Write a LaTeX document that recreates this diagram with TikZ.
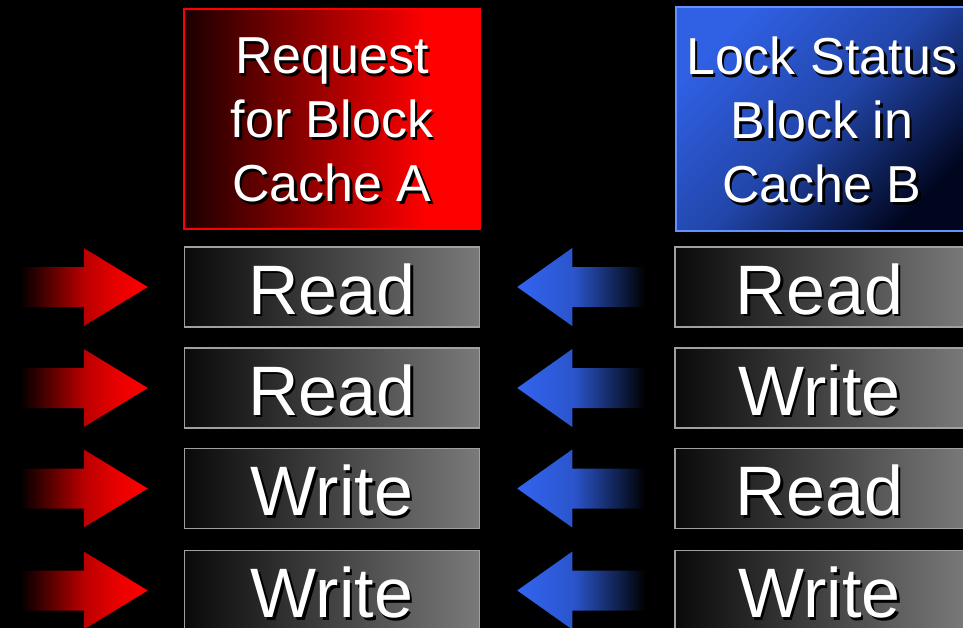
\documentclass[tikz,border=0pt]{standalone}
\usepackage{fontspec}
\setmainfont{Liberation Sans}
\usetikzlibrary{calc}
\definecolor{rdark}{RGB}{28,0,0}
\definecolor{rmid}{RGB}{185,0,0}
\definecolor{bbright}{RGB}{50,100,240}
\definecolor{bhead}{RGB}{48,96,228}
\definecolor{bnavy}{RGB}{0,6,30}
\definecolor{bborder}{RGB}{100,145,255}
\definecolor{gleft}{RGB}{10,10,10}
\definecolor{gright}{RGB}{122,122,122}
\definecolor{gborder}{RGB}{160,160,160}
\colorlet{bmidarrow}{bbright!85!black}
\pgfdeclarehorizontalshading{redarrow}{100bp}{color(0bp)=(black); color(25bp)=(black); color(50bp)=(rmid); color(62bp)=(red!90!black); color(75bp)=(red); color(100bp)=(red)}
\pgfdeclarehorizontalshading{bluearrow}{100bp}{color(0bp)=(bbright); color(25bp)=(bbright); color(47bp)=(bmidarrow); color(75bp)=(black); color(100bp)=(black)}
\pgfdeclarehorizontalshading{redhead}{100bp}{color(0bp)=(rdark); color(25bp)=(rdark); color(66bp)=(red); color(100bp)=(red)}
\tikzset{
  rowbox/.style={draw=gborder, line width=1.5pt, left color=gleft, right color=gright, minimum height=80pt, inner sep=0pt},
  redbox/.style={draw=red, line width=1.5pt, shading=redhead, minimum width=296pt, minimum height=220pt, inner sep=0pt},
  bluebox/.style={draw=bborder, line width=1.5pt, top color=bhead, bottom color=bnavy, middle color=bhead!70!bnavy, shading angle=45, minimum width=292pt, minimum height=224pt, inner sep=0pt},
  rowtxt/.style={text=white, font=\fontsize{70}{84}\selectfont, anchor=base, inner sep=0pt},
  rowshd/.style={rowtxt, text=black},
  headtxt/.style={text=white, font=\fontsize{52}{64}\selectfont, align=center, inner sep=0pt},
  headshd/.style={headtxt, text=black},
  redarr/.style={shade, shading=redarrow},
  bluearr/.style={shade, shading=bluearrow}
}
\begin{document}
\begin{tikzpicture}[x=1pt,y=-1pt]
\useasboundingbox (0,0) rectangle (963,628);
\fill[black] (0,0) rectangle (963,628);
\clip (0,0) rectangle (963,628);
% headers
\node[redbox] (ha) at (332,119) {};
\node[bluebox] (hb) at (822,119) {};
\node[headshd] (hasd) at ($(ha.center)+(2.5,3.5)$) {Request\\for Block\\Cache A};
\node[headtxt] (hat) at ($(ha.center)+(0,1)$) {Request\\for Block\\Cache A};
\node[headshd] (hbsd) at ($(hb.center)+(2.5,3.5)$) {Lock Status\\Block in\\Cache B};
\node[headtxt] (hbt) at ($(hb.center)+(0,1)$) {Lock Status\\Block in\\Cache B};
% rows
\foreach \i/\y/\la/\lb in {1/287/Read/Read, 2/388/Read/Write, 3/488.5/Write/Read, 4/590.5/Write/Write}{
  \node[rowbox, minimum width=295pt] (a\i) at (332,\y) {};
  \node[rowbox, minimum width=293pt] (b\i) at (821.5,\y) {};
  \node[rowshd] (as\i) at ($(a\i.center)+(2.5,29.5)$) {\la};
  \node[rowtxt] (at\i) at ($(a\i.center)+(0,27)$) {\la};
  \node[rowshd] (bs\i) at ($(b\i.center)+(0.5,29.5)$) {\lb};
  \node[rowtxt] (bt\i) at ($(b\i.center)+(-2,27)$) {\lb};
  \coordinate (rt\i) at ($(a\i.west)+(-36,0)$);
  \coordinate (bl\i) at ($(a\i.east)+(37,0)$);
  \path[redarr] (rt\i) -- ++(-64,-39) -- ++(0,19) -- ++(-64,0) -- ++(0,40) -- ++(64,0) -- ++(0,19) -- cycle;
  \path[bluearr] (bl\i) -- ++(55,-39) -- ++(0,19) -- ++(73,0) -- ++(0,40) -- ++(-73,0) -- ++(0,19) -- cycle;
}
\end{tikzpicture}
\end{document}
